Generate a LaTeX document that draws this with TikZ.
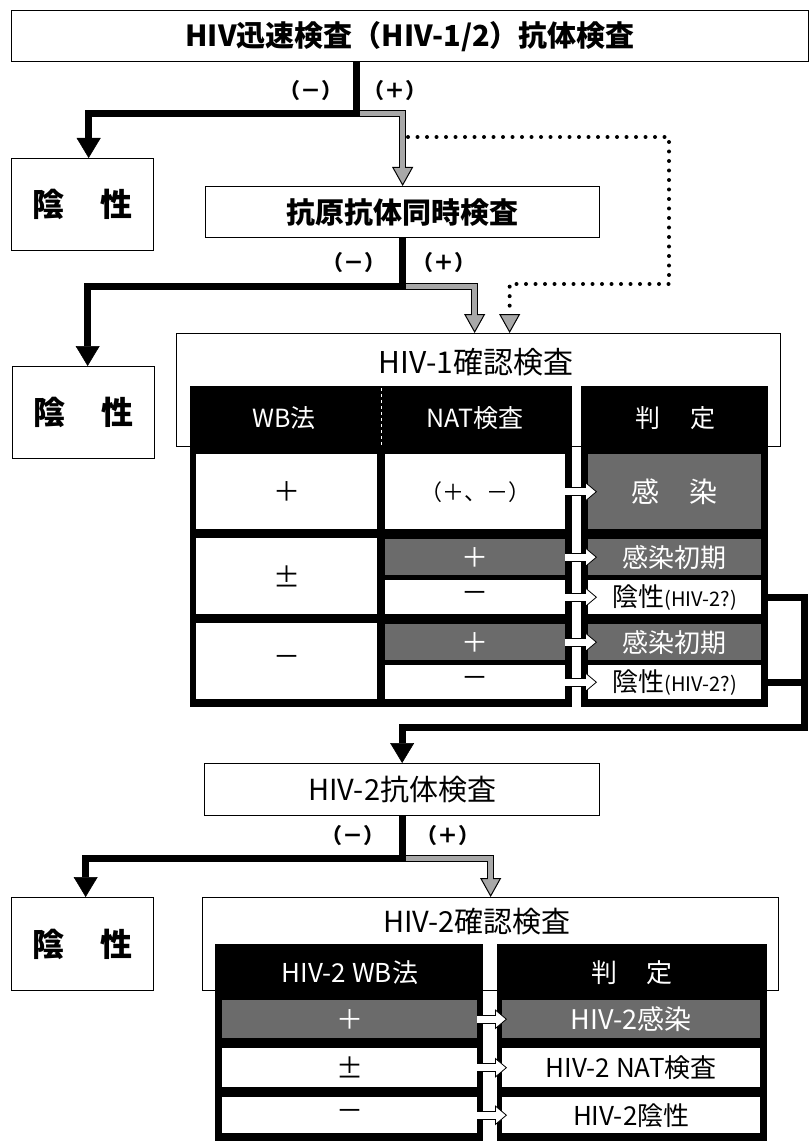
\documentclass[tikz,border=0pt]{standalone}
\usepackage{fontspec}
\setmainfont{Noto Sans CJK JP}
\usetikzlibrary{arrows.meta}
\newcommand{\fsz}[1]{\fontsize{#1}{#1}\selectfont}
\definecolor{garr}{gray}{0.66}
\definecolor{gcol}{gray}{0.42}
\newcommand{\garrow}[1]{%
  \draw[line width=7pt, black, line join=miter, shorten >=17pt] #1;
  \draw[line width=5pt, garr, line join=miter, -{Triangle[length=19pt,width=21pt,color=black,fill=garr,line width=1pt]}] #1;
  \draw[line width=5pt, garr, line join=miter, shorten >=17pt] #1;}
\newcommand{\warrow}[2]{%
  \draw[line width=9pt, black, shorten >=10pt] #1 -- #2;
  \draw[line width=7pt, white, -{Triangle[length=12pt,width=20pt,color=black,fill=white,line width=0.8pt]}] #1 -- #2;
  \draw[line width=7pt, white, shorten >=10.5pt] #1 -- #2;}
\tikzset{
  box/.style={draw, line width=1.3pt, inner sep=0pt, anchor=north west, fill=white},
  cell/.style={fill=white, inner sep=0pt, anchor=north west},
  gcell/.style={fill=gcol, text=white, inner sep=0pt, anchor=north west},
  blkblock/.style={fill=black, inner sep=0pt, anchor=north west},
  hdr/.style={text=white, inner sep=0pt},
  lbl/.style={font=\fsz{21}\bfseries, inner sep=0pt},
  blk/.style={line width=7pt, line join=miter, -{Triangle[length=20pt,width=24pt,line width=0.5pt]}},
  blkline/.style={line width=7pt, line join=miter},
  dots/.style={line width=4pt, line cap=round, dash pattern=on 0pt off 9.5pt,
    -{Triangle[length=19pt,width=21pt,color=black,fill=garr,line width=1pt]}}
}
\begin{document}
\begin{tikzpicture}[x=1pt,y=-1pt]
\useasboundingbox (0,0) rectangle (810,1147);

% ---------- top part ----------
\node[box, minimum width=797pt, minimum height=51pt, font=\fsz{29}\bfseries] (top) at (11,10) {HIV迅速検査（HIV-1/2）抗体検査};
\node[box, minimum width=142pt, minimum height=92pt, font=\fsz{32}\bfseries] (neg1) at (11,158) {陰\hspace{36pt}性};
\node[box, minimum width=394pt, minimum height=51pt, font=\fsz{29}\bfseries] (ag) at (205,186) {抗原抗体同時検査};
\node[box, minimum width=142pt, minimum height=92pt, font=\fsz{32}\bfseries] (neg2) at (12,366) {陰\hspace{36pt}性};

\node[lbl] (m1) at (311,91) {（－）};
\node[lbl] (p1) at (395,91) {（＋）};
\node[lbl] (m2) at (354,263) {（－）};
\node[lbl] (p2) at (444,263) {（＋）};

% ---------- HIV-1 confirmation ----------
\node[box, minimum width=604pt, minimum height=113pt] (c1) at (176,333) {};
\node[font=\fsz{30}, inner sep=0pt] (c1t) at (476,362) {HIV-1確認検査};
\node[blkblock, minimum width=382pt, minimum height=321pt] (L1) at (190,386) {};
\node[blkblock, minimum width=187pt, minimum height=321pt] (R1) at (581,386) {};
\node[hdr, font=\fsz{25}] (h1) at (284,418) {WB法};
\node[hdr, font=\fsz{25}] (h2) at (475,418) {NAT検査};
\node[hdr, font=\fsz{25}] (h3) at (675,418) {判\hspace{30pt}定};
\draw[white, dashed, line width=1pt] (381,388) -- (381,447);

\node[cell, minimum width=181pt, minimum height=75pt, font=\fsz{27}] (w1) at (196,454) {＋};
\node[cell, minimum width=181pt, minimum height=76pt, font=\fsz{27}] (w2) at (196,538) {±};
\node[cell, minimum width=181pt, minimum height=76pt, font=\fsz{27}] (w3) at (196,623) {－};

\node[cell, minimum width=180pt, minimum height=75pt, font=\fsz{22}] (n1) at (385,454) {（＋、－）};
\node[gcell, minimum width=180pt, minimum height=36pt, font=\fsz{27}] (n2a) at (385,539) {＋};
\node[cell, minimum width=180pt, minimum height=34pt, font=\fsz{27}] (n2b) at (385,580) {－};
\node[gcell, minimum width=180pt, minimum height=36pt, font=\fsz{27}] (n3a) at (385,624) {＋};
\node[cell, minimum width=180pt, minimum height=34pt, font=\fsz{27}] (n3b) at (385,665) {－};

\node[gcell, minimum width=173pt, minimum height=75pt, font=\fsz{28}] (j1) at (588,454) {感\hspace{30pt}染};
\node[gcell, minimum width=173pt, minimum height=36pt, font=\fsz{26}] (j2a) at (588,539) {感染初期};
\node[cell, minimum width=173pt, minimum height=34pt, font=\fsz{26}] (j2b) at (588,580) {陰性{\fsz{20}(HIV-2?)}};
\node[gcell, minimum width=173pt, minimum height=36pt, font=\fsz{26}] (j3a) at (588,624) {感染初期};
\node[cell, minimum width=173pt, minimum height=34pt, font=\fsz{26}] (j3b) at (588,665) {陰性{\fsz{20}(HIV-2?)}};

\warrow{(n1.east)}{([xshift=9pt]j1.west)}
\warrow{(n2a.east)}{([xshift=9pt]j2a.west)}
\warrow{(n2b.east)}{([xshift=9pt]j2b.west)}
\warrow{(n3a.east)}{([xshift=9pt]j3a.west)}
\warrow{(n3b.east)}{([xshift=9pt]j3b.west)}

% ---------- connectors top ----------
\coordinate (s1) at (356,113.5);
\coordinate (s2) at ([yshift=-48pt]ag.south);
\coordinate (d1) at (408,137);
\coordinate (d2) at (669,284);
\draw[dots] (d1) -| (d2) -| ([xshift=31pt]c1.north);
\garrow{(s1) -| (ag.north)}
\garrow{(s2) -| ([xshift=-4pt]c1.north)}
\draw[blk] (s1 |- top.south) -- (s1) -| ([xshift=6pt]neg1.north);
\draw[blk] (ag.south) -- (s2) -| ([xshift=4pt]neg2.north);

% ---------- HIV-2 antibody ----------
\node[box, minimum width=395pt, minimum height=52pt, font=\fsz{29}] (ab2) at (204,763) {HIV-2抗体検査};
\coordinate (r1) at (804,727);
\draw[blkline] (j3b.east) -- (j3b.east -| r1);
\draw[blk] (j2b.east) -| (r1) -| (ab2.north);

\node[lbl] (m3) at (353,836) {（－）};
\node[lbl] (p3) at (448,836) {（＋）};

\node[box, minimum width=142pt, minimum height=93pt, font=\fsz{32}\bfseries] (neg3) at (11,897) {陰\hspace{36pt}性};
\node[box, minimum width=576pt, minimum height=93pt] (c2) at (202,897) {};
\coordinate (s3) at ([yshift=-42pt]ab2.south);
\garrow{(s3) -| (c2.north)}
\draw[blk] (ab2.south) -- (s3) -| ([xshift=3pt]neg3.north);

% ---------- HIV-2 confirmation ----------
\node[font=\fsz{29}, inner sep=0pt] (c2t) at (477,922) {HIV-2確認検査};
\node[blkblock, minimum width=268pt, minimum height=197pt] (L2) at (215,944) {};
\node[blkblock, minimum width=270pt, minimum height=197pt] (R2) at (497,944) {};
\node[hdr, font=\fsz{26}] (h4) at (350,973) {HIV-2 WB法};
\node[hdr, font=\fsz{26}] (h5) at (632,973) {判\hspace{30pt}定};

\node[gcell, minimum width=255pt, minimum height=38pt, font=\fsz{27}] (v1) at (222,1000) {＋};
\node[cell, minimum width=255pt, minimum height=39pt, font=\fsz{27}] (v2) at (222,1048) {±};
\node[cell, minimum width=255pt, minimum height=36pt, font=\fsz{27}] (v3) at (222,1097) {－};
\node[gcell, minimum width=258pt, minimum height=38pt, font=\fsz{27}] (k1) at (502,1000) {HIV-2感染};
\node[cell, minimum width=258pt, minimum height=39pt, font=\fsz{26}] (k2) at (502,1048) {HIV-2 NAT検査};
\node[cell, minimum width=258pt, minimum height=36pt, font=\fsz{26}] (k3) at (502,1097) {HIV-2陰性};

\warrow{(v1.east)}{([xshift=5pt]k1.west)}
\warrow{(v2.east)}{([xshift=5pt]k2.west)}
\warrow{(v3.east)}{([xshift=5pt]k3.west)}
\end{tikzpicture}
\end{document}
